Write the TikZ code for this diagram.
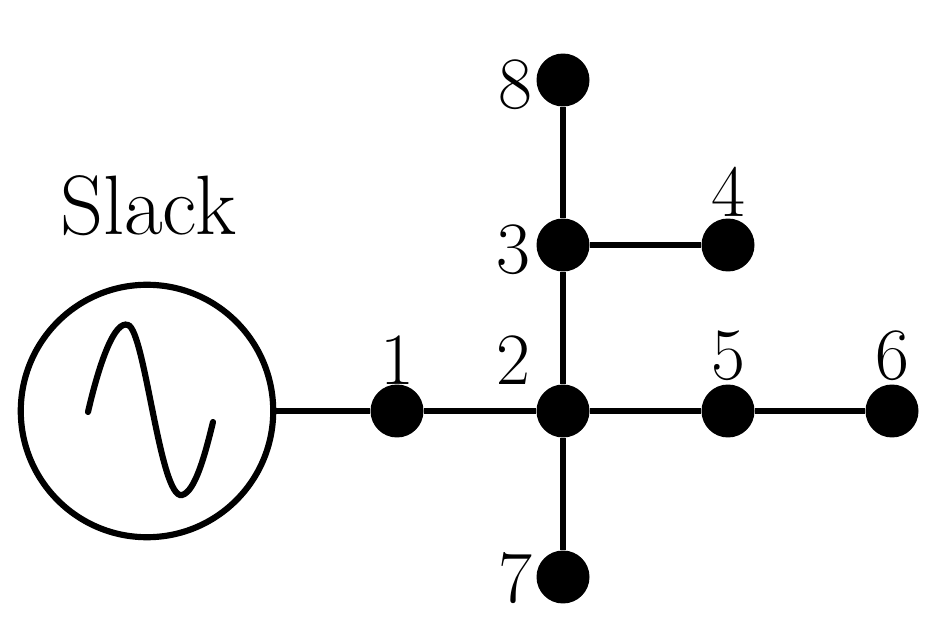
\documentclass[tikz,border=0pt]{standalone}
\begin{document}
\begin{tikzpicture}[x=0.02cm,y=-0.02cm,
  bus/.style={circle,fill=black,minimum size=1.06cm,inner sep=0pt},
  lab/.style={font=\fontsize{42}{44}\selectfont},
  ln/.style={line width=3.5pt}]
\useasboundingbox (0,0) rectangle (943,631);
\node[bus] (n1) at (397,411) {};
\node[bus] (n2) at (563,411) {};
\node[bus] (n3) at (563,245) {};
\node[bus] (n4) at (728,245) {};
\node[bus] (n5) at (728,411) {};
\node[bus] (n6) at (892,411) {};
\node[bus] (n7) at (563,577) {};
\node[bus] (n8) at (563,80) {};
\node[circle,draw,line width=3.5pt,minimum size=5.05cm,inner sep=0pt] (g) at (147,411) {};
\draw[ln,line cap=round] (88,412) .. controls (100,360) and (115,320) .. (128,325)
  .. controls (145,330) and (160,500) .. (182,495) .. controls (195,492) and (205,455) .. (213,422);
\draw[ln] (g) -- (n1) -- (n2) -- (n5) -- (n6);
\draw[ln] (n8) -- (n3) -- (n2) -- (n7);
\draw[ln] (n3) -- (n4);
\node[lab] (l1) at (397,360) {1};
\node[lab] (l2) at (513,360) {2};
\node[lab] (l3) at (513,250) {3};
\node[lab] (l4) at (728,192) {4};
\node[lab] (l5) at (728,356) {5};
\node[lab] (l6) at (892,356) {6};
\node[lab] (l7) at (515,578) {7};
\node[lab] (l8) at (515,85) {8};
\node[lab,font=\fontsize{48}{50}\selectfont] (sl) at (148,206) {Slack};
\end{tikzpicture}
\end{document}
